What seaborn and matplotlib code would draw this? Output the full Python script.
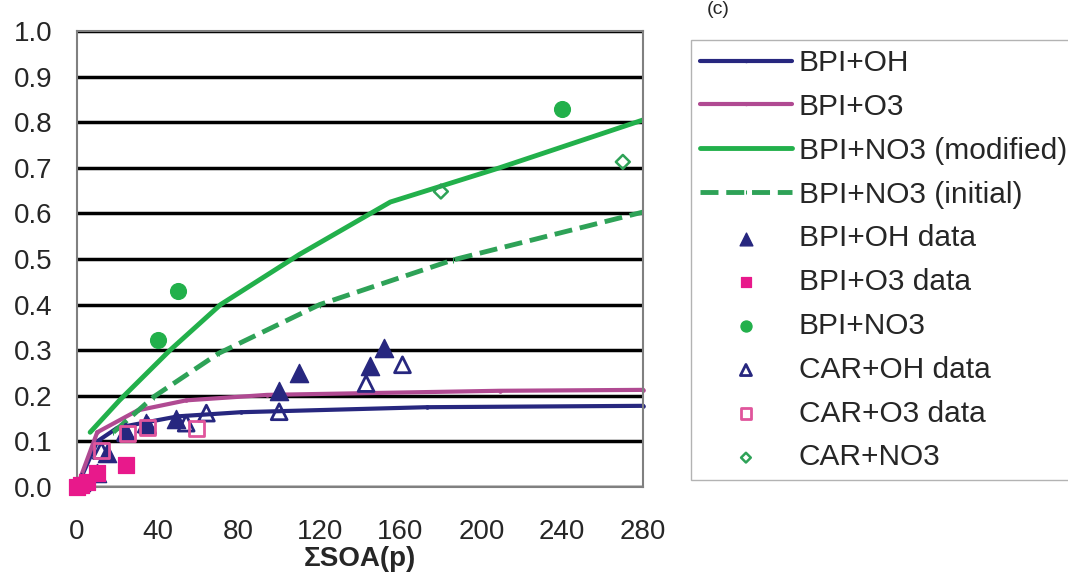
import numpy as np
import matplotlib
matplotlib.use("Agg")
import matplotlib.pyplot as plt
import seaborn as sns

# model curves
oh_x = [0, 10, 20, 50, 81, 173, 280]
oh_y = [0.0, 0.10, 0.13, 0.155, 0.164, 0.175, 0.178]
o3_x = [0, 10, 30, 54, 94, 209, 280]
o3_y = [0.0, 0.12, 0.168, 0.19, 0.202, 0.211, 0.213]
no3_mod_x = [6.5, 21, 46, 71, 110, 155, 209, 280]
no3_mod_y = [0.12, 0.19, 0.30, 0.40, 0.51, 0.625, 0.70, 0.805]
no3_ini_x = [18, 38, 70, 120, 186, 280]
no3_ini_y = [0.12, 0.198, 0.293, 0.40, 0.498, 0.603]

# measured data
bpi_oh_x = [2, 10, 15, 24, 34, 49, 100, 110, 145, 152]
bpi_oh_y = [0.01, 0.03, 0.075, 0.12, 0.14, 0.15, 0.21, 0.25, 0.265, 0.304]
bpi_o3_x = [0, 2, 5, 10, 24]
bpi_o3_y = [0.0, 0.005, 0.01, 0.03, 0.048]
bpi_no3_x = [40, 50, 240]
bpi_no3_y = [0.322, 0.43, 0.83]
car_oh_x = [12, 24, 35, 54, 64, 100, 143, 161]
car_oh_y = [0.08, 0.12, 0.135, 0.14, 0.162, 0.165, 0.227, 0.268]
car_o3_x = [12, 25, 35, 59]
car_o3_y = [0.08, 0.118, 0.13, 0.129]
car_no3_x = [180, 270]
car_no3_y = [0.648, 0.713]

xticks = [0, 40, 80, 120, 160, 200, 240, 280]
yticks = [round(v * 0.1, 1) for v in range(11)]

sns.set_style("white")
plt.rcParams["font.family"] = ["Liberation Sans", "DejaVu Sans"]

fig = plt.figure(figsize=(10.68, 5.81), dpi=100)
ax = fig.add_axes([0.0721, 0.1618, 0.5300, 0.7848])

navy = "#27277f"
mauve = "#b04a92"
green = "#22b04b"
green2 = "#2ea257"
pink = "#e8198b"

sns.lineplot(x=oh_x, y=oh_y, ax=ax, color=navy, lw=3, marker=".", markersize=5,
             markeredgecolor=navy, label="BPI+OH", clip_on=False)
sns.lineplot(x=o3_x, y=o3_y, ax=ax, color=mauve, lw=3, marker=".", markersize=5,
             markeredgecolor=mauve, label="BPI+O3", clip_on=False)
sns.lineplot(x=no3_mod_x, y=no3_mod_y, ax=ax, color=green, lw=3.5,
             label="BPI+NO3 (modified)")
sns.lineplot(x=no3_ini_x, y=no3_ini_y, ax=ax, color=green2, lw=3.5, linestyle="--",
             marker="|", markersize=5, markeredgecolor=green2,
             label="BPI+NO3 (initial)")

sns.scatterplot(x=bpi_oh_x, y=bpi_oh_y, ax=ax, marker="^", s=170, color=navy,
                edgecolor=navy, label="BPI+OH data", clip_on=False, zorder=3)
sns.scatterplot(x=bpi_o3_x, y=bpi_o3_y, ax=ax, marker="s", s=120, color=pink,
                edgecolor=pink, label="BPI+O3 data", clip_on=False, zorder=3)
sns.scatterplot(x=bpi_no3_x, y=bpi_no3_y, ax=ax, marker="o", s=130, color=green,
                edgecolor=green, label="BPI+NO3", clip_on=False, zorder=3)
sns.scatterplot(x=car_oh_x, y=car_oh_y, ax=ax, marker="^", s=130, color=navy,
                facecolor="none", edgecolor=navy, linewidth=2,
                label="CAR+OH data", clip_on=False, zorder=3)
sns.scatterplot(x=car_o3_x, y=car_o3_y, ax=ax, marker="s", s=120, color="#e0559c",
                facecolor="none", edgecolor="#e0559c", linewidth=2,
                label="CAR+O3 data", clip_on=False, zorder=3)
sns.scatterplot(x=car_no3_x, y=car_no3_y, ax=ax, marker="D", s=50, color=green2,
                facecolor="none", edgecolor=green2, linewidth=1.8,
                label="CAR+NO3", clip_on=False, zorder=3)

ax.set_xlim(0, 280)
ax.set_ylim(0, 1.0)
ax.set_xticks(xticks)
ax.set_yticks(yticks)
ax.set_yticklabels([f"{v:.1f}" for v in yticks])
ax.yaxis.grid(True, color="black", lw=2.5)
ax.xaxis.grid(False)
ax.set_axisbelow(True)
for sp in ax.spines.values():
    sp.set_color("#808080")
    sp.set_linewidth(1.5)
ax.tick_params(axis="both", direction="out", length=7, width=1.2, color="#808080",
               labelsize=20)
ax.tick_params(axis="x", pad=16)
ax.tick_params(axis="y", pad=11)
ax.set_xlabel("ΣSOA(p)", fontsize=20, fontweight="bold", labelpad=1)
ax.set_ylabel("")

handles, labels = ax.get_legend_handles_labels()
ax.legend(handles, labels, loc="upper left", bbox_to_anchor=(0.647, 0.931),
          bbox_transform=fig.transFigure, fontsize=21.5, frameon=True,
          fancybox=False, edgecolor="#a0a0a0", handlelength=3.08,
          labelspacing=0.53, borderpad=0.3, handletextpad=0.23,
          borderaxespad=0, markerscale=0.7)

fig.text(0.662, 0.998, "(c)", fontsize=14, va="top", ha="left")

fig.savefig("out.png", dpi=100)
